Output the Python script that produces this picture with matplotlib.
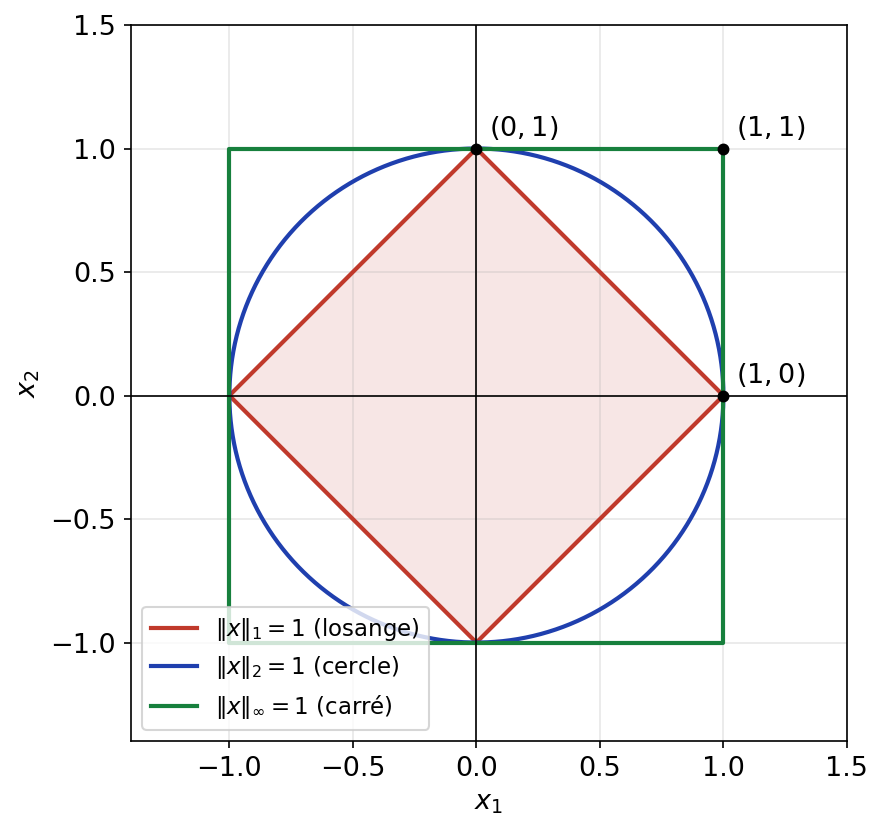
import numpy as np
from matplotlib import pyplot as plt

# unit balls for the three norms
L1_X = [1, 0, -1, 0, 1]
L1_Y = [0, 1, 0, -1, 0]
LINF_X = [1, -1, -1, 1, 1]
LINF_Y = [1, 1, -1, -1, 1]
POINTS_X = [0, 1, 1]
POINTS_Y = [1, 1, 0]
POINT_LABELS = [r"$(0,1)$", r"$(1,1)$", r"$(1,0)$"]
TICKS = [-1.0, -0.5, 0.0, 0.5, 1.0, 1.5]

RED = "#c0392b"
BLUE = "#1f3fae"
GREEN = "#17803d"

fig, ax = plt.subplots(figsize=(883 / 150, 833 / 150), dpi=150)
fig.subplots_adjust(left=0.147, right=0.96, top=0.97, bottom=0.11)

t = np.linspace(0, 2 * np.pi, 400)
ax.fill(L1_X, L1_Y, color=RED, alpha=0.12, linewidth=0)
ax.plot(L1_X, L1_Y, color=RED, linewidth=2, label=r"$\|x\|_1 = 1$ (losange)")
ax.plot(np.cos(t), np.sin(t), color=BLUE, linewidth=2, label=r"$\|x\|_2 = 1$ (cercle)")
ax.plot(LINF_X, LINF_Y, color=GREEN, linewidth=2, label=r"$\|x\|_\infty = 1$ (carré)")

ax.axhline(0, color="black", linewidth=0.8)
ax.axvline(0, color="black", linewidth=0.8)

ax.scatter(POINTS_X, POINTS_Y, color="black", s=22, zorder=5)
for x, y, lab in zip(POINTS_X, POINTS_Y, POINT_LABELS):
    ax.annotate(lab, (x, y), xytext=(6, 6), textcoords="offset points", fontsize=13)

ax.set_xlim(-1.4, 1.5)
ax.set_ylim(-1.4, 1.5)
ax.set_xticks(TICKS)
ax.set_yticks(TICKS)
ax.tick_params(labelsize=13)
ax.set_aspect("equal")
ax.grid(True, alpha=0.3)
ax.set_xlabel(r"$x_1$", fontsize=13)
ax.set_ylabel(r"$x_2$", fontsize=13)
ax.legend(loc="lower left", fontsize=11)

fig.savefig("out.png", dpi=150)
